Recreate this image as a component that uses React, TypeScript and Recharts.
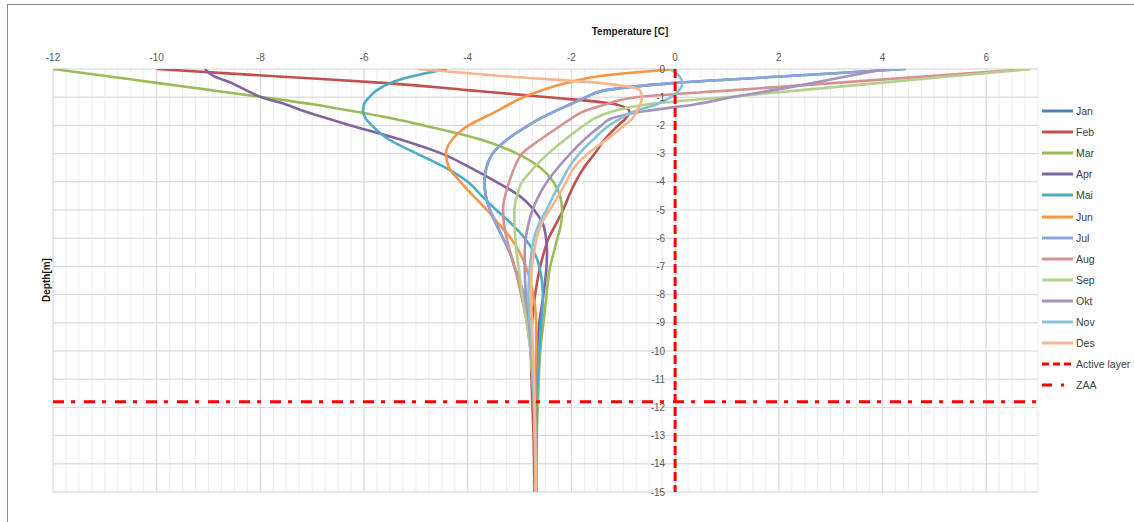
import React from 'react';
import {
  LineChart,
  Line,
  XAxis,
  YAxis,
  CartesianGrid,
  ReferenceLine,
  ReferenceDot,
} from 'recharts';

// Depth below surface [m] (negative downwards) shared by every monthly profile
const depths = [0, -0.25, -0.5, -0.75, -1, -1.25, -1.5, -1.75, -2, -2.5, -3, -3.5, -4, -4.5, -5, -5.5, -6, -6.5, -7, -8, -9, -10, -11, -12, -13, -14, -15];

// Ground temperature [C] per month at each depth
const jan = [4.45, 2.2, -0.06, -1.33, -1.72, -2.02, -2.32, -2.6, -2.83, -3.24, -3.52, -3.64, -3.68, -3.65, -3.57, -3.45, -3.32, -3.19, -3.1, -2.92, -2.82, -2.76, -2.73, -2.71, -2.7, -2.69, -2.68];
const feb = [-10, -7.8, -5.55, -4.0, -2.45, -1.15, -0.88, -0.95, -1.1, -1.36, -1.55, -1.76, -1.92, -2.05, -2.16, -2.3, -2.44, -2.53, -2.6, -2.7, -2.76, -2.78, -2.77, -2.75, -2.73, -2.72, -2.71];
const mar = [-12, -10.98, -9.97, -8.95, -7.95, -7.0, -6.2, -5.48, -4.85, -3.75, -3.05, -2.6, -2.35, -2.22, -2.18, -2.2, -2.27, -2.34, -2.41, -2.48, -2.54, -2.6, -2.63, -2.65, -2.67, -2.68, -2.69];
const apr = [-9.07, -8.9, -8.55, -8.28, -7.98, -7.52, -7.15, -6.72, -6.26, -5.3, -4.5, -3.95, -3.45, -3.0, -2.72, -2.55, -2.49, -2.47, -2.48, -2.54, -2.62, -2.66, -2.68, -2.68, -2.68, -2.68, -2.68];
const mai = [-4.4, -5.05, -5.5, -5.75, -5.9, -6.0, -6.02, -5.97, -5.85, -5.52, -4.98, -4.43, -4.0, -3.73, -3.45, -3.15, -2.9, -2.72, -2.62, -2.55, -2.58, -2.62, -2.65, -2.67, -2.68, -2.69, -2.7];
const jun = [0, -1.45, -2.1, -2.57, -2.93, -3.2, -3.45, -3.72, -3.98, -4.3, -4.42, -4.36, -4.14, -3.89, -3.63, -3.4, -3.17, -3.0, -2.88, -2.74, -2.68, -2.68, -2.7, -2.7, -2.7, -2.7, -2.7];
const jul = [4.45, 2.2, -0.06, -1.33, -1.72, -2.02, -2.32, -2.6, -2.83, -3.24, -3.52, -3.64, -3.68, -3.65, -3.57, -3.45, -3.32, -3.19, -3.1, -2.92, -2.82, -2.76, -2.73, -2.71, -2.7, -2.69, -2.68];
const aug = [6.82, 4.93, 3.04, 1.14, -0.75, -1.33, -1.76, -2.0, -2.2, -2.6, -2.95, -3.1, -3.2, -3.28, -3.32, -3.3, -3.25, -3.18, -3.1, -2.97, -2.86, -2.79, -2.75, -2.72, -2.71, -2.7, -2.69];
const sep = [6.86, 5.39, 3.91, 2.44, 0.96, -0.52, -1.2, -1.55, -1.76, -2.12, -2.45, -2.72, -2.95, -3.05, -3.1, -3.1, -3.08, -3.06, -3.02, -2.95, -2.86, -2.79, -2.75, -2.72, -2.7, -2.69, -2.68];
const okt = [4.07, 3.35, 2.65, 1.9, 1.1, 0.4, -0.6, -1.22, -1.42, -1.75, -2.02, -2.26, -2.47, -2.63, -2.75, -2.83, -2.88, -2.9, -2.9, -2.88, -2.82, -2.77, -2.74, -2.72, -2.7, -2.69, -2.68];
const nov = [-0.1, 0.08, 0.14, 0.08, -0.08, -0.35, -0.78, -1.05, -1.27, -1.58, -1.85, -2.05, -2.2, -2.35, -2.48, -2.63, -2.72, -2.77, -2.8, -2.83, -2.8, -2.76, -2.73, -2.71, -2.7, -2.69, -2.68];
const des = [-4.97, -3.35, -1.43, -0.68, -0.64, -0.67, -0.74, -0.82, -0.98, -1.32, -1.68, -1.95, -2.1, -2.25, -2.42, -2.58, -2.67, -2.72, -2.76, -2.78, -2.76, -2.74, -2.72, -2.71, -2.7, -2.69, -2.69];

const months = ['Jan', 'Feb', 'Mar', 'Apr', 'Mai', 'Jun', 'Jul', 'Aug', 'Sep', 'Okt', 'Nov', 'Des'];
const monthValues = [jan, feb, mar, apr, mai, jun, jul, aug, sep, okt, nov, des];
const monthColors = ['#4F81BD', '#C0504D', '#9BBB59', '#8064A2', '#4BACC6', '#F79646', '#8AA6D8', '#D49391', '#B5CF8C', '#A593BE', '#84C3D6', '#F9B58B'];

// Active layer boundary (temperature) and depth of zero annual amplitude
const activeLayerTemp = 0;
const zaaDepth = -11.8;

// Axis ticks
const xTicks = [-12, -10, -8, -6, -4, -2, 0, 2, 4, 6];
const yTicks = [0, -1, -2, -3, -4, -5, -6, -7, -8, -9, -10, -11, -12, -13, -14, -15];
const xDomain = [-12, 7];
const yDomain = [-15, 0];

const steps = (from: number, to: number, step: number) => {
  const out: number[] = [];
  const n = Math.round((to - from) / step);
  for (let i = 0; i <= n; i++) out.push(+(from + i * step).toFixed(4));
  return out;
};
const minorX = steps(xDomain[0], xDomain[1], 0.25);
const minorY = steps(yDomain[0], yDomain[1], 0.2);

const rows = depths.map((depth, i) => {
  const row: Record<string, number> = { depth };
  months.forEach((m, k) => {
    row[m] = monthValues[k][i];
  });
  return row;
});

const FONT = '"Liberation Sans", Arial, sans-serif';
const RED = '#FF0000';

const legendItems = [
  ...months.map((m, k) => ({ name: m, color: monthColors[k], dash: undefined as string | undefined })),
  { name: 'Active layer', color: RED, dash: '7 4' },
  { name: 'ZAA', color: RED, dash: '10 9 3 20' },
];

function SideLegend() {
  return (
    <div style={{ position: 'absolute', left: 1042, top: 104, fontFamily: FONT, fontSize: 10.5, color: '#404040' }}>
      {legendItems.map((it, i) => (
        <div
          key={it.name}
          style={{ position: 'absolute', top: i * 21.1, left: 0, height: 14, display: 'flex', alignItems: 'center', whiteSpace: 'nowrap' }}
        >
          <svg width={33} height={6} style={{ display: 'block' }}>
            <line x1={0} y1={3} x2={31} y2={3} stroke={it.color} strokeWidth={3} strokeDasharray={it.dash} />
          </svg>
          <span style={{ marginLeft: 1 }}>{it.name}</span>
        </div>
      ))}
    </div>
  );
}

export default function App() {
  return (
    <div style={{ position: 'absolute', left: 0, top: 0, width: 1134, height: 522, overflow: 'hidden', background: '#fff' }}>
      <div
        style={{
          position: 'absolute',
          left: 7,
          top: 4,
          width: 1140,
          height: 540,
          borderTop: '1px solid #8a8a8a',
          borderLeft: '1px solid #8a8a8a',
        }}
      />
      <LineChart
        width={1134}
        height={522}
        data={rows}
        layout="vertical"
        margin={{ top: 39, right: 96, bottom: 30, left: 53 }}
        style={{ position: 'absolute', left: 0, top: 0, fontFamily: FONT }}
      >
        <CartesianGrid stroke="#efefef" strokeWidth={1} verticalValues={minorX} horizontalValues={minorY} />
        <CartesianGrid stroke="#d9d9d9" strokeWidth={1} verticalValues={xTicks} horizontalValues={yTicks} />
        <XAxis
          type="number"
          orientation="top"
          domain={xDomain}
          ticks={xTicks}
          interval={0}
          allowDataOverflow
          axisLine={false}
          tickLine={false}
          height={30}
          tickSize={6}
          tickMargin={2}
          tick={{ fill: '#595959', fontSize: 10 }}
        />
        <YAxis type="number" dataKey="depth" domain={yDomain} reversed hide allowDataOverflow />
        {months.map((m, k) => (
          <Line
            key={m}
            dataKey={m}
            type="monotone"
            stroke={monthColors[k]}
            strokeWidth={2.6}
            dot={false}
            activeDot={false}
            isAnimationActive={false}
          />
        ))}
        <ReferenceLine x={activeLayerTemp} stroke={RED} strokeWidth={3} strokeDasharray="9 4" />
        <ReferenceLine y={zaaDepth} stroke={RED} strokeWidth={3} strokeDasharray="11 7 4 9" />
        {yTicks.map((v) => (
          <ReferenceDot
            key={v}
            x={activeLayerTemp}
            y={v}
            r={0}
            fill="none"
            stroke="none"
            label={{ value: String(v), position: 'left', offset: 10, fill: '#595959', fontSize: 10 }}
          />
        ))}
      </LineChart>
      <div
        style={{
          position: 'absolute',
          left: 630,
          top: 31,
          transform: 'translate(-50%, -50%)',
          fontFamily: FONT,
          fontSize: 10,
          fontWeight: 'bold',
          color: '#1a1a1a',
          whiteSpace: 'nowrap',
        }}
      >
        Temperature [C]
      </div>
      <div
        style={{
          position: 'absolute',
          left: 46,
          top: 280,
          transform: 'translate(-50%, -50%) rotate(-90deg)',
          fontFamily: FONT,
          fontSize: 10,
          fontWeight: 'bold',
          color: '#1a1a1a',
          whiteSpace: 'nowrap',
        }}
      >
        Depth[m]
      </div>
      <SideLegend />
    </div>
  );
}
